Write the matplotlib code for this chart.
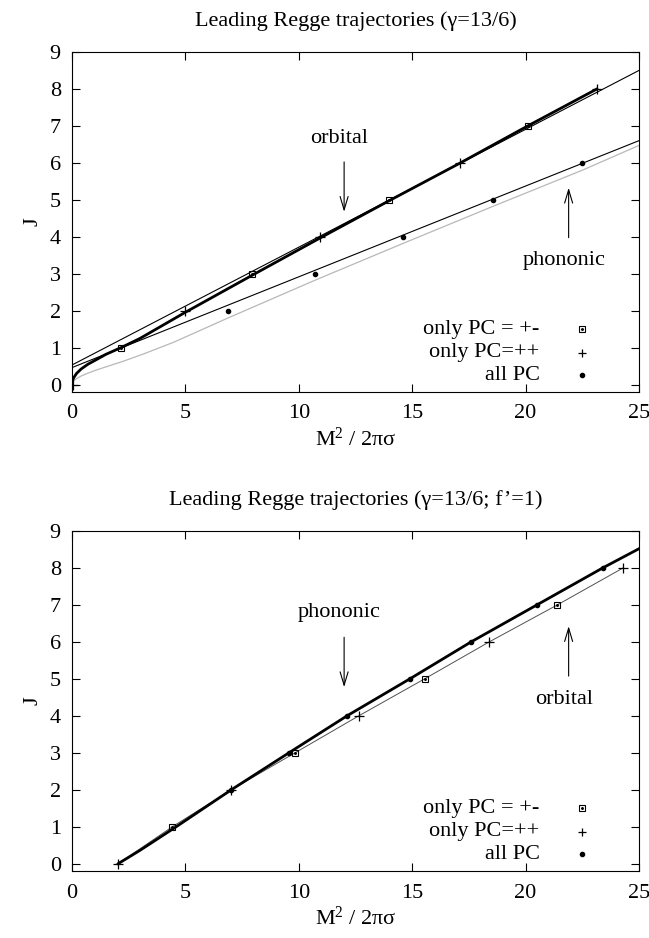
import matplotlib
matplotlib.use("Agg")
import matplotlib.pyplot as plt

plt.rcParams['font.family'] = ['Liberation Serif', 'DejaVu Serif']
plt.rcParams['mathtext.fontset'] = 'custom'
plt.rcParams['mathtext.rm'] = 'Liberation Serif'
plt.rcParams['mathtext.it'] = 'Liberation Serif:italic'
plt.rcParams['font.size'] = 16

# ---- upper panel: gamma = 13/6 ----
top_sq_x = [2.16, 7.95, 14.0, 20.1]
top_sq_j = [1, 3, 5, 7]
top_pl_x = [0.05, 4.98, 10.95, 17.1, 23.15]
top_pl_j = [0, 2, 4, 6, 8]
top_dot_x = [6.87, 10.7, 14.6, 18.55, 22.5]
top_dot_j = [2, 3, 4, 5, 6]

# orbital trajectory (thick)
orb_x = [0.0, 0.02, 0.08, 0.2, 0.4, 0.7, 1.0, 1.5, 2.16, 3.0, 4.98, 7.95, 10.95, 14.0, 17.1, 20.1, 23.15]
orb_j = [0.0, 0.10, 0.19, 0.30, 0.42, 0.55, 0.65, 0.82, 1.0, 1.25, 1.95, 2.96, 3.97, 4.98, 5.99, 7.0, 8.0]
# phononic trajectory (grey)
pho_x = [0.0, 0.02, 0.08, 0.2, 0.4, 0.7, 1.1, 1.6, 2.3, 3.2, 4.5, 6.87, 10.7, 14.6, 18.55, 22.5, 25.0]
pho_j = [0.0, 0.05, 0.10, 0.16, 0.23, 0.31, 0.40, 0.50, 0.64, 0.84, 1.15, 1.80, 2.82, 3.82, 4.82, 5.8, 6.47]
# straight-line fits
fit_x = [0.0, 25.0]
fit_orb_j = [0.53, 8.5]
fit_pho_j = [0.46, 6.6]

# ---- lower panel: gamma = 13/6, f' = 1 ----
bot_sq_x = [4.43, 9.84, 15.55, 21.4]
bot_sq_j = [1, 3, 5, 7]
bot_pl_x = [2.04, 7.03, 12.65, 18.4, 24.3]
bot_pl_j = [0, 2, 4, 6, 8]
bot_dot_x = [7.03, 9.57, 12.13, 14.9, 17.6, 20.5, 23.4]
bot_dot_j = [2, 3, 4, 5, 6, 7, 8]

thick_x = [2.04, 3.0, 4.6, 7.03, 9.57, 12.13, 14.9, 17.6, 20.5, 23.4, 25.0]
thick_j = [0.0, 0.36, 1.0, 2.0, 3.0, 4.0, 5.0, 6.0, 7.0, 8.0, 8.52]
thin_x = [2.04, 4.43, 7.03, 9.84, 12.65, 15.55, 18.4, 21.4, 24.3]
thin_j = [0, 1, 2, 3, 4, 5, 6, 7, 8]

legend_labels = ['only PC = +-', 'only PC=++', 'all PC']


def draw_points(ax, sx, sj, px, pj, dx, dj):
    ax.plot(sx, sj, ls='none', marker='s', ms=4.8, mfc='none', mec='black', mew=0.8, zorder=5)
    ax.plot(sx, sj, ls='none', marker='o', ms=1.1, color='black', zorder=5)
    ax.plot(px, pj, ls='none', marker='+', ms=6.5, mec='black', mew=0.9, zorder=5)
    ax.plot(dx, dj, ls='none', marker='o', ms=3.0, color='black', zorder=5)


def draw_key(ax):
    ys = [0.185, 0.115, 0.049]
    for lab, y in zip(legend_labels, ys):
        ax.text(0.825, y, lab, transform=ax.transAxes, ha='right', va='center')
    ax.plot([0.899], [ys[0]], transform=ax.transAxes, marker='s', ms=4.3, mfc='none', mec='black', mew=0.8)
    ax.plot([0.899], [ys[0]], transform=ax.transAxes, marker='o', ms=1.1, color='black')
    ax.plot([0.899], [ys[1]], transform=ax.transAxes, marker='+', ms=6.0, mec='black', mew=0.9)
    ax.plot([0.899], [ys[2]], transform=ax.transAxes, marker='o', ms=3.0, color='black')


def arrow(ax, x, j_from, j_to, label, j_label):
    ax.annotate('', xy=(x, j_to), xytext=(x, j_from),
                arrowprops=dict(arrowstyle='->,head_length=0.6,head_width=0.18', lw=0.8, color='black'))
    ax.text(x - 0.2, j_label, label, ha='center', va='center')


def style_axes(ax, title):
    ax.set_xlim(0, 25)
    ax.set_ylim(-0.2, 9)
    ax.set_xticks(range(0, 26, 5))
    ax.set_yticks(range(0, 10))
    ax.tick_params(direction='in', length=5.5, width=0.8, top=True, right=True, pad=8)
    ax.tick_params(axis='x', pad=9)
    for s in ax.spines.values():
        s.set_linewidth(0.8)
    ax.set_title(title, pad=19, fontsize=16)
    ax.set_xlabel('M$^{2}$ / 2πσ', labelpad=3)
    ax.set_ylabel('J', labelpad=5)


fig = plt.figure(figsize=(6.49, 9.38), dpi=100)
ax1 = fig.add_axes([0.1109, 0.5821, 0.8736, 0.3625])
ax2 = fig.add_axes([0.1109, 0.0714, 0.8736, 0.3625])

ax1.plot(pho_x, pho_j, color='#b8b8b8', lw=0.9)
ax1.plot(fit_x, fit_orb_j, color='black', lw=0.8)
ax1.plot(fit_x, fit_pho_j, color='black', lw=0.8)
ax1.plot(orb_x, orb_j, color='black', lw=2.0)
draw_points(ax1, top_sq_x, top_sq_j, top_pl_x, top_pl_j, top_dot_x, top_dot_j)
arrow(ax1, 12.0, 6.1, 4.6, 'orbital', 6.65)
arrow(ax1, 21.9, 3.9, 5.4, 'phononic', 3.35)
draw_key(ax1)
style_axes(ax1, 'Leading Regge trajectories (γ=13/6)')

ax2.plot(thin_x, thin_j, color='#505050', lw=0.7)
ax2.plot(thick_x, thick_j, color='black', lw=2.0)
draw_points(ax2, bot_sq_x, bot_sq_j, bot_pl_x, bot_pl_j, bot_dot_x, bot_dot_j)
arrow(ax2, 12.0, 6.2, 4.7, 'phononic', 6.8)
arrow(ax2, 21.9, 5.0, 6.5, 'orbital', 4.45)
draw_key(ax2)
style_axes(ax2, 'Leading Regge trajectories (γ=13/6; f’=1)')

fig.savefig('out.png', dpi=100)
